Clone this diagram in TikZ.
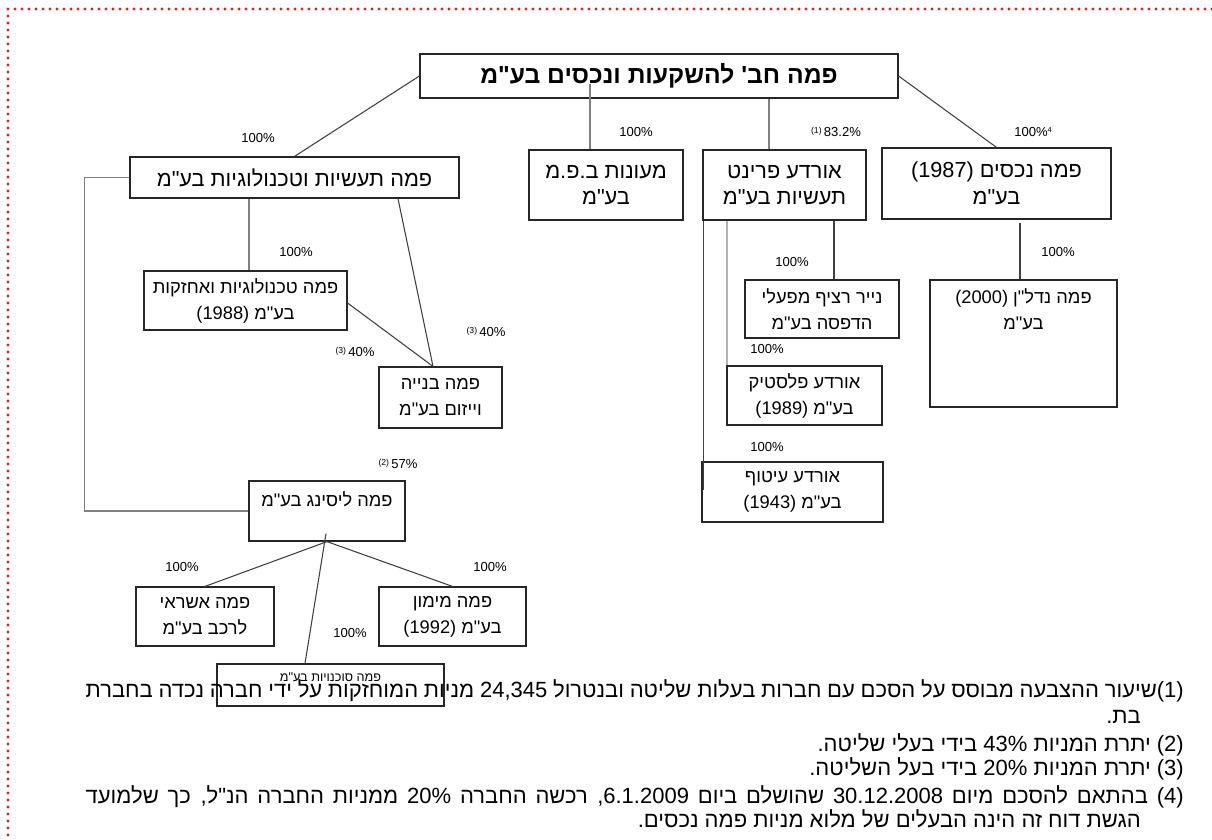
\documentclass[tikz,border=0pt]{standalone}
\usepackage{fontspec}
\newfontfamily\hebfont[Script=Hebrew]{Liberation Sans}
\TeXXeTstate=1
\usepackage{tikz}
\usetikzlibrary{calc,positioning}
\definecolor{Frame}{RGB}{235,25,25}
\newcommand{\heb}[1]{\beginR #1\endR}
\newcommand{\ltr}[1]{\beginL #1\endL}
\newcommand{\fullline}[1]{\hbox to 823.5pt{\beginR #1\endR}}
\newcommand{\fn}[1]{\raisebox{2.5pt}{\fontsize{6.5}{6.5}\selectfont(#1)}}

\begin{document}
\begin{tikzpicture}[x=0.75pt,y=-0.75pt,
  firm/.style={draw=black!85,line width=0.9pt,inner sep=0pt,align=center,font=\hebfont\fontsize{13.7}{19.5}\selectfont},
  bigfirm/.style={firm,font=\hebfont\fontsize{16.3}{20}\selectfont},
  wh/.style 2 args={minimum width=#1*0.75pt,minimum height=#2*0.75pt},
  link/.style={black!75,line width=0.8pt},
  glink/.style={black!50,line width=0.8pt},
  pct/.style={font=\hebfont\fontsize{9.8}{11}\selectfont,inner sep=0pt},
  note/.style={font=\hebfont\fontsize{16.5}{19}\selectfont,inner sep=0pt,anchor=base east}]
\useasboundingbox (0,0) rectangle (1212,839);
\draw[Frame,line width=2.4pt,line cap=round,dash pattern=on 0pt off 5.25pt] (1212,9) -- (8,9) -- (8,839);
%
% companies
\node[firm,wh={478}{44},font=\hebfont\bfseries\fontsize{18.5}{20}\selectfont] (top) at (659,76) {\heb{פמה חב' להשקעות ונכסים בע"מ}};
\node[bigfirm,wh={329}{41}] (ind) at (294.5,177.5) {\heb{פמה תעשיות וטכנולוגיות בע"מ}};
\node[bigfirm,wh={154}{70}] (meon) at (606,185) {\heb{מעונות ב.פ.מ}\\\heb{בע"מ}};
\node[bigfirm,wh={163}{70}] (print) at (784.5,185) {\heb{אורדע פרינט}\\\heb{תעשיות בע"מ}};
\node[bigfirm,wh={229}{71}] (nech) at (996.5,183.5) {\heb{פמה נכסים \ltr{(1987)}}\\\heb{בע"מ}};
\node[firm,wh={203}{59}] (tech) at (245.5,300.5) {\heb{פמה טכנולוגיות ואחזקות}\\\heb{בע"מ \ltr{(1988)}}};
\node[firm,wh={123}{61}] (bniya) at (440.5,397.5) {\heb{פמה בנייה}\\\heb{וייזום בע"מ}};
\node[firm,wh={154}{58}] (nayar) at (822,309) {\heb{נייר רציף מפעלי}\\\heb{הדפסה בע"מ}};
\node[firm,wh={155}{59}] (plastic) at (804.5,395.5) {\heb{אורדע פלסטיק}\\\heb{בע"מ \ltr{(1989)}}};
\node[firm,wh={181}{60}] (itof) at (792.5,492) {\heb{אורדע עיטוף}\\\heb{בע"מ \ltr{(1943)}}};
\node[firm,wh={187}{127}] (nadlan) at (1023.5,343.5) {\heb{פמה נדל"ן \ltr{(2000)}}\\\heb{בע"מ}\\[32pt]\mbox{}};
\node[firm,wh={156}{60}] (leasing) at (327,511) {\heb{פמה ליסינג בע"מ}\\[-2pt]\mbox{}};
\node[firm,wh={138}{59}] (ashrai) at (205,616.5) {\heb{פמה אשראי}\\\heb{לרכב בע"מ}};
\node[firm,wh={147}{59}] (mimun) at (452.5,616.5) {\heb{פמה מימון}\\\heb{בע"מ \ltr{(1992)}}};
\node[firm,wh={227}{42},font=\hebfont\fontsize{9.5}{14}\selectfont] (sochn) at (330.5,685) {\heb{פמה סוכנויות בע"מ}\\[-2pt]\mbox{}};
%
% holdings
\draw[link] (top.west) -- (ind.north);
\draw[glink] ($(meon.north)+(-16,0)$) -- ($(meon.north)+(-16,-65)$);
\draw[glink] ($(print.north)+(-15.5,0)$) -- ($(print.north |- top.south)+(-15.5,0)$);
\draw[link] (top.east) -- (nech.north);
\draw[glink] ($(tech.north)+(3.5,0)$) -- ($(tech.north |- ind.south)+(3.5,0)$);
\draw[link] ($(ind.south)+(103.5,0)$) -- ($(bniya.north)+(-7.5,0)$);
\draw[link] ($(tech.east)+(0,2.5)$) -- ($(bniya.north)+(-7.5,0)$);
\draw[glink] (ind.west) -- ++(-45,0) |- (leasing.west);
\draw[link] (leasing.south) -- (ashrai.north);
\draw[link] (leasing.south) -- (mimun.north);
\draw[link] ($(leasing.south)+(-1,-8)$) -- ($(sochn.north)+(-25.5,0)$);
\draw[link] ($(nayar.north)+(12,0)$) -- ($(nayar.north |- print.south)+(12,0)$);
\draw[black!30,line width=1.5pt] ($(plastic.north west)+(1,0)$) -- ($(plastic.north west |- print.south)+(1,0)$);
\draw[link] ($(print.south west)+(1,0)$) -- ($(itof.west)+(2,-2)$);
\draw[link] ($(nadlan.north)+(-3.5,0)$) -- ($(nadlan.north |- nech.south)+(-3.5,3)$);
%
% percentages
\node[pct] (p1) at (258,138) {100\%};
\node[pct] (p2) at (636,132) {100\%};
\node[pct] (p3) at (836,132) {\fn{1}\,83.2\%};
\node[pct] (p4) at (1033,132) {100\%\raisebox{3pt}{\fontsize{5.5}{5.5}\selectfont 4}};
\node[pct] (p5) at (296,252) {100\%};
\node[pct] (p6) at (486,332) {\fn{3}\,40\%};
\node[pct] (p7) at (355,352) {\fn{3}\,40\%};
\node[pct] (p8) at (398,464) {\fn{2}\,57\%};
\node[pct] (p9) at (182,567) {100\%};
\node[pct] (p10) at (490,567) {100\%};
\node[pct] (p11) at (350,633) {100\%};
\node[pct] (p12) at (792,262) {100\%};
\node[pct] (p13) at (767,349) {100\%};
\node[pct] (p14) at (767,447) {100\%};
\node[pct] (p15) at (1058,252) {100\%};
%
% notes
\node[note] (n1) at (1184,697) {\fullline{\ltr{(1)}שיעור ההצבעה מבוסס על הסכם עם חברות בעלות שליטה ובנטרול \ltr{24,345} מניות המוחזקות על ידי חברה נכדה בחברת}};
\node[note] (n1b) at (1141,723) {\heb{בת.}};
\node[note] (n2) at (1184,751) {\heb{\ltr{(2)} יתרת המניות \ltr{43\%} בידי בעלי שליטה.}};
\node[note] (n3) at (1184,775) {\heb{\ltr{(3)} יתרת המניות \ltr{20\%} בידי בעל השליטה.}};
\node[note] (n4) at (1184,803) {\fullline{\ltr{(4)} בהתאם להסכם מיום \ltr{30.12.2008} שהושלם ביום \ltr{6.1.2009}, רכשה החברה \ltr{20\%} ממניות החברה הנ"ל, כך שלמועד}};
\node[note] (n4b) at (1141,827) {\heb{הגשת דוח זה הינה הבעלים של מלוא מניות פמה נכסים.}};
%
\end{tikzpicture}
\end{document}
